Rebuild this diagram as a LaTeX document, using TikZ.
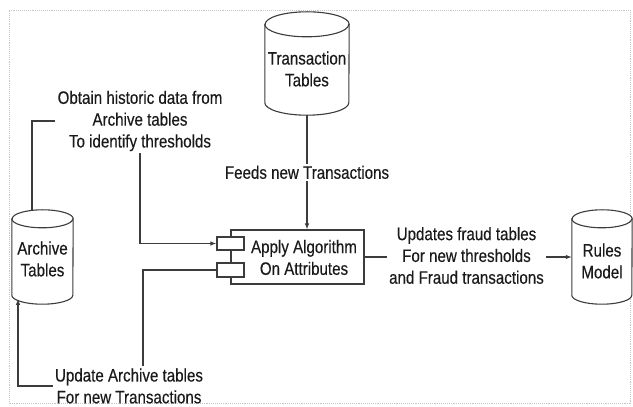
\documentclass[tikz,border=0pt]{standalone}
\usepackage{fontspec}
\setmainfont{Liberation Sans}[FakeStretch=0.84, FakeBold=0.3]
\usetikzlibrary{arrows.meta}
\definecolor{linec}{HTML}{3C3C3C}
\definecolor{txtc}{HTML}{1A1A1A}
\tikzset{
  x=1pt, y=1pt,
  lbl/.style={font=\fontsize{18}{21.8}\selectfont, align=center, inner sep=2pt, text=txtc},
  dbshape/.style={rectangle, draw=none, inner sep=0pt, minimum width=#1},
  dbline/.style={draw=linec, line width=1.1pt, fill=white},
  conn/.style={draw=linec, line width=1.1pt},
  tip/.style={-{Latex[length=6pt,width=4.5pt]}},
  algbox/.style={rectangle, draw=linec, line width=1.1pt, fill=white, inner sep=0pt,
                 minimum width=133pt, minimum height=54pt},
  portbox/.style={rectangle, draw=linec, line width=1.1pt, fill=white, inner sep=0pt,
                  minimum width=27pt},
  frame/.style={draw=gray!45, line width=0.9pt, densely dotted}
}
\begin{document}
\begin{tikzpicture}
\useasboundingbox (0,0) rectangle (633,407);
\draw[frame] (9,3.5) rectangle (630,397);

% database cylinders (node extent = full cylinder)
\node[dbshape=84pt, minimum height=103pt] (trans) at (307,343.5) {};
\node[dbshape=61pt, minimum height=94pt] (arch) at (42.5,150) {};
\node[dbshape=60pt, minimum height=94pt] (rules) at (602,150) {};
\foreach \n/\r/\e in {trans/42/12.5, arch/30.5/9, rules/30/9}{
  \draw[dbline] ([yshift=-\e pt]\n.north west) -- ([yshift=\e pt]\n.south west)
    arc[start angle=180, end angle=360, x radius=\r pt, y radius=\e pt]
    -- ([yshift=-\e pt]\n.north east)
    arc[start angle=0, end angle=180, x radius=\r pt, y radius=\e pt] -- cycle;
  \draw[dbline, fill=none] ([yshift=-\e pt]\n.north west)
    arc[start angle=180, end angle=360, x radius=\r pt, y radius=\e pt];
}
\node[lbl] (transLbl) at (307,338) {Transaction\\Tables};
\node[lbl] (archLbl) at (42.5,148) {Archive\\Tables};
\node[lbl] (rulesLbl) at (602,146) {Rules\\Model};

% processing block with its two ports
\node[algbox] (alg) at (297.5,150) {};
\node[lbl] (algLbl) at (304,149.5) {Apply Algorithm\\On Attributes};
\node[portbox, minimum height=13pt] (r1) at (230.5,163.5) {};
\node[portbox, minimum height=14pt] (r2) at (230.5,137) {};

% edge labels
\node[lbl] (obtain) at (140,286) {Obtain historic data from\\Archive tables\\To identify thresholds};
\node[lbl] (upd) at (129,21) {Update Archive tables\\For new Transactions};
\node[lbl] (fraud) at (466.5,151.5) {Updates fraud tables\\For new thresholds\\and Fraud transactions};

% connectors
\draw[conn, tip] (trans.south) -- node[lbl, fill=white, pos=0.5] (feeds) {Feeds new Transactions}
  (trans.south |- alg.north);
\draw[conn] ([xshift=-10.5pt, yshift=-0.6pt]arch.north) |- (obtain.west);
\draw[conn, tip] (obtain.south) |- (r1.west);
\draw[conn] (r2.west) -| ([xshift=14pt]upd.north);
\draw[conn, tip] (upd.west) -| ([xshift=-24.5pt, yshift=5.4pt]arch.south);
\draw[conn] (alg.east) -- (alg.east -| fraud.west);
\draw[conn, tip] (fraud.east |- rules.west) -- (rules.west);
\end{tikzpicture}
\end{document}
